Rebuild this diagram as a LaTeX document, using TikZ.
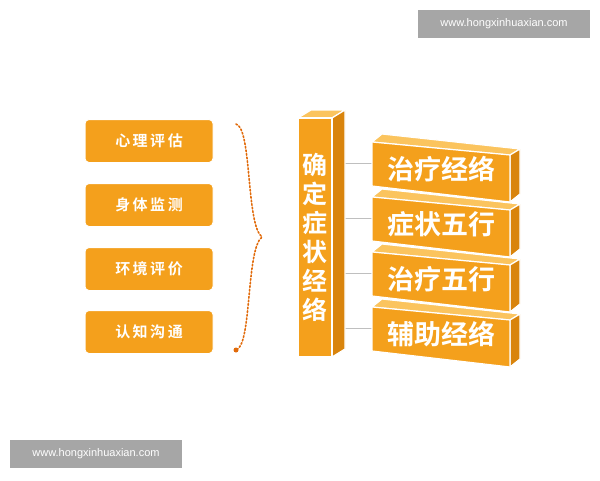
\documentclass[tikz,border=0pt]{standalone}
\usepackage{fontspec}
\setmainfont{Liberation Sans}
\newfontfamily\cjk{Noto Sans CJK SC Bold}
\definecolor{orng}{HTML}{F4A01C}
\definecolor{orngtop}{HTML}{FBC45E}
\definecolor{orngside}{HTML}{D9840C}
\definecolor{markgray}{HTML}{A6A6A6}
\tikzset{
  leftbox/.style={rounded corners=4pt, fill=orng, draw=white, line width=1pt,
    minimum width=128pt, minimum height=43pt, text=white, font=\cjk\fontsize{15}{15}\selectfont},
  face/.style={draw=white, line width=1.2pt, line join=round},
  wmark/.style={fill=markgray, text=white, minimum width=172pt, minimum height=28pt,
    inner sep=0pt, font=\fontsize{11}{11}\selectfont},
  link/.style={draw=black!25, line width=0.5pt}
}
\begin{document}
\begin{tikzpicture}[x=1pt,y=-1pt]
	\useasboundingbox (0,0) rectangle (600,480);
	% watermarks
	\node[wmark] (wm1) at (504,24) {www.hongxinhuaxian.com};
	\node[wmark] (wm2) at (96,454) {www.hongxinhuaxian.com};
	% left items
	\node[leftbox] (a1) at (149,141) {心\,理\,评\,估};
	\node[leftbox] (a2) at (149,205) {身\,体\,监\,测};
	\node[leftbox] (a3) at (149,269) {环\,境\,评\,价};
	\node[leftbox] (a4) at (149,332) {认\,知\,沟\,通};
	% dotted brace
	\coordinate (b1) at (236,124);
	\coordinate (b2) at (236,350);
	\draw[orngside!80!red, line width=1.6pt, dotted, line cap=round]
		(b1) .. controls (252,128) and (246,225) .. (262,237)
		.. controls (246,249) and (252,346) .. (b2);
	\fill[orngside!80!red] (b2) circle (2.5pt);
	% links
	\foreach \y in {163,218,273,328}
		\draw[link] (345,\y) -- (372,\y);
	% central column
	\draw[face, fill=orngtop] (298,118) -- (311,110) -- (345,110) -- (332,118) -- cycle;
	\draw[face, fill=orngside] (332,118) -- (345,110) -- (345,349) -- (332,357) -- cycle;
	\draw[face, fill=orng] (298,118) rectangle (332,357);
	\node[text=white, font=\cjk\fontsize{25}{29}\selectfont, align=center] (col) at (315,237)
		{确\\定\\症\\状\\经\\络};
	% right boxes
	\foreach \t [count=\i] in {治疗经络,症状五行,治疗五行,辅助经络} {
		\pgfmathsetmacro{\yy}{142+(\i-1)*55}
		\draw[face, fill=orngtop] (372,\yy) -- (382,\yy-8) -- (520,\yy+7) -- (510,\yy+13) -- cycle;
		\draw[face, fill=orngside] (510,\yy+13) -- (520,\yy+7) -- (520,\yy+52) -- (510,\yy+60) -- cycle;
		\draw[face, fill=orng] (372,\yy) -- (510,\yy+13) -- (510,\yy+60) -- (372,\yy+44) -- cycle;
		\node[text=white, font=\cjk\fontsize{27}{27}\selectfont] (r\i) at (441,\yy+27) {\t};
	}
\end{tikzpicture}
\end{document}
